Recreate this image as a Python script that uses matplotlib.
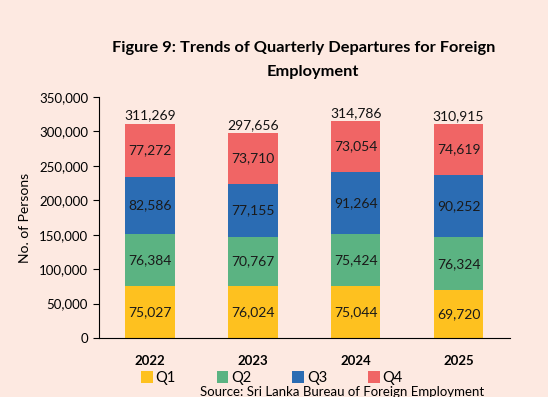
import matplotlib.pyplot as plt
import numpy as np

plt.rcParams['font.family'] = ['Lato', 'DejaVu Sans']

years = ['2022', '2023', '2024', '2025']
q1 = [75027, 76024, 75044, 69720]
q2 = [76384, 70767, 75424, 76324]
q3 = [82586, 77155, 91264, 90252]
q4 = [77272, 73710, 73054, 74619]
quarters = ['Q1', 'Q2', 'Q3', 'Q4']
colors = ['#fec11f', '#5bb382', '#2b6cb3', '#f06565']
bg = '#fde9e1'

W, H = 548, 397
fig = plt.figure(figsize=(W / 100, H / 100), dpi=100, facecolor=bg)
ax = fig.add_axes([98.5 / W, 1 - 338 / H, (510 - 98.5) / W, (338 - 97) / H])
ax.set_facecolor(bg)

x = np.arange(len(years))
series = [q1, q2, q3, q4]
bottom = np.zeros(len(years))
for vals, col, name in zip(series, colors, quarters):
    ax.bar(x, vals, 0.48, bottom=bottom, color=col, label=name)
    for xi, b, v in zip(x, bottom, vals):
        ax.text(xi, b + v / 2, f'{v:,}', ha='center', va='center',
                fontsize=10, color='#1a1a1a')
    bottom += np.array(vals)

for xi, t in zip(x, bottom):
    ax.text(xi, t + 3000, f'{int(t):,}', ha='center', va='bottom',
            fontsize=10, color='#111111')

ax.set_xlim(-0.5, 3.5)
ax.set_ylim(0, 350000)
ax.set_yticks(range(0, 350001, 50000))
ax.set_yticklabels([f'{v:,}' for v in range(0, 350001, 50000)], fontsize=9.5)
ax.set_xticks(x)
ax.set_xticklabels(years, fontsize=9.5, fontweight='bold')
ax.tick_params(axis='x', length=0, pad=12)
ax.tick_params(axis='y', length=4, direction='out')
for s in ['top', 'right']:
    ax.spines[s].set_visible(False)
ax.set_ylabel('No. of Persons', fontsize=10, labelpad=6)

fig.text(304 / W, 1 - 48 / H, 'Figure 9: Trends of Quarterly Departures for Foreign',
         ha='center', va='center', fontsize=11.8, fontweight='bold')
fig.text(313 / W, 1 - 72 / H, 'Employment',
         ha='center', va='center', fontsize=11.8, fontweight='bold')

ax.legend(loc='center', bbox_to_anchor=(272 / W, 1 - 378 / H),
          bbox_transform=fig.transFigure, ncol=4, frameon=False,
          fontsize=10.5, handlelength=0.8, handleheight=0.8,
          handletextpad=0.2, columnspacing=2.8)

fig.text(200 / W, 1 - 392 / H, 'Source: Sri Lanka Bureau of Foreign Employment',
         ha='left', va='center', fontsize=9.5)

fig.savefig('out.png', dpi=100, facecolor=bg)
